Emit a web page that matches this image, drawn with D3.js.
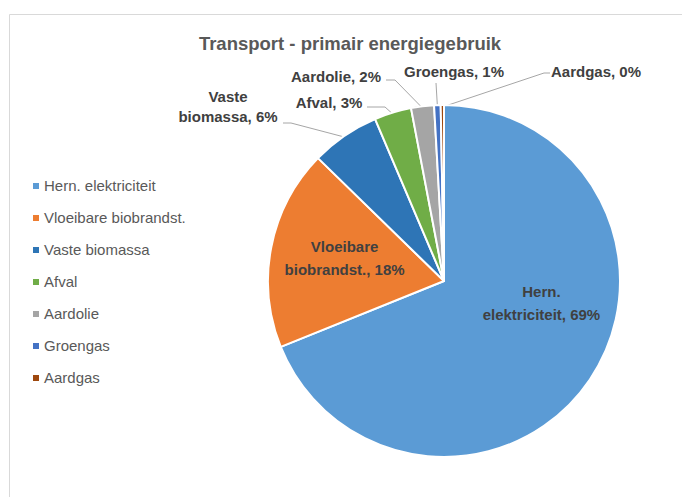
<!DOCTYPE html>
<html><head><meta charset="utf-8">
<script src="https://cdn.jsdelivr.net/npm/d3@7"></script>
<style>
html,body{margin:0;padding:0;background:#fff;}
svg{display:block;font-family:"Liberation Sans",Arial,sans-serif;}
</style></head>
<body><svg id="c" width="682" height="497"></svg>
<script>
const categories = ["Hern. elektriciteit","Vloeibare biobrandst.","Vaste biomassa","Afval","Aardolie","Groengas","Aardgas"];
const values = [68.9, 18.4, 6.3, 3.4, 2.1, 0.6, 0.3];
const labelTexts = [["Hern.","elektriciteit, 69%"],["Vloeibare","biobrandst., 18%"],["Vaste","biomassa, 6%"],["Afval, 3%"],["Aardolie, 2%"],["Groengas, 1%"],["Aardgas, 0%"]];
const colors = ["#5B9BD5","#ED7D31","#2E75B6","#70AD47","#A5A5A5","#4472C4","#9E480E"];
const title = "Transport - primair energiegebruik";

// layout (not data)
const cx = 444, cy = 281, R = 176;
const labelLayout = [
  {type:"in", ang:103, r:100, lh:23},
  {type:"in", ang:283, r:102, lh:23},
  {type:"out", x:228, y:112, lh:20, leader:[[283,123],[291,123]]},
  {type:"out", x:329, y:108, lh:20, leader:[[367,107],[385,107]]},
  {type:"out", x:336, y:82, lh:20, leader:[[386,80],[395,80]]},
  {type:"out", x:454, y:77, lh:20, leader:[[436,83],[436,83]]},
  {type:"out", x:596, y:77, lh:20, leader:[[550,73],[544,73]]}
];

const svg = d3.select("#c");
svg.append("path").attr("d","M9.5,497 V14.5 H682").attr("fill","none").attr("stroke","#D9D9D9").attr("stroke-width",1);

svg.append("text").attr("x",350).attr("y",50).attr("text-anchor","middle")
  .attr("font-size",18.5).attr("font-weight","bold").attr("fill","#595959").text(title);

const data = categories.map((c,i)=>({cat:c, value:values[i], i}));
const pie = d3.pie().sort(null).value(d=>d.value).startAngle(0).endAngle(2*Math.PI);
const arcs = pie(data);
const arc = d3.arc().innerRadius(0).outerRadius(R);
const g = svg.append("g").attr("transform",`translate(${cx},${cy})`);
g.selectAll("path").data(arcs).join("path")
  .attr("d",arc).attr("fill",d=>colors[d.data.i]).attr("stroke","#fff").attr("stroke-width",2).attr("stroke-linejoin","round");

const rad = a => a*Math.PI/180;
arcs.forEach((a,i)=>{
  const L = labelLayout[i];
  const lines = labelTexts[i];
  const lh = L.lh;
  const t = svg.append("text").attr("text-anchor","middle").attr("font-size",15).attr("font-weight","bold").attr("fill","#404040");
  if(L.type==="in"){
    const x = cx + L.r*Math.sin(rad(L.ang)), y = cy - L.r*Math.cos(rad(L.ang));
    lines.forEach((s,k)=>t.append("tspan").attr("x",x).attr("y",y + (k-(lines.length-1)/2)*lh + 5).text(s));
  } else {
    const mid = (a.startAngle+a.endAngle)/2;
    const ex = cx + (R-2)*Math.sin(mid), ey = cy - (R-2)*Math.cos(mid);
    const pts = L.leader.concat([[ex,ey]]);
    svg.insert("polyline","text").attr("points",pts.map(p=>p.join(",")).join(" ")).attr("fill","none").attr("stroke","#A6A6A6").attr("stroke-width",1);
    lines.forEach((s,k)=>t.append("tspan").attr("x",L.x).attr("y",L.y + (k-(lines.length-1)/2)*lh).text(s));
  }
});

const lg = svg.append("g");
categories.forEach((c,i)=>{
  const y = 186 + i*32;
  lg.append("rect").attr("x",33).attr("y",y-3).attr("width",6).attr("height",6).attr("fill",colors[i]);
  lg.append("text").attr("x",44).attr("y",y+5).attr("font-size",15).attr("fill","#595959").text(c);
});
</script></body></html>
